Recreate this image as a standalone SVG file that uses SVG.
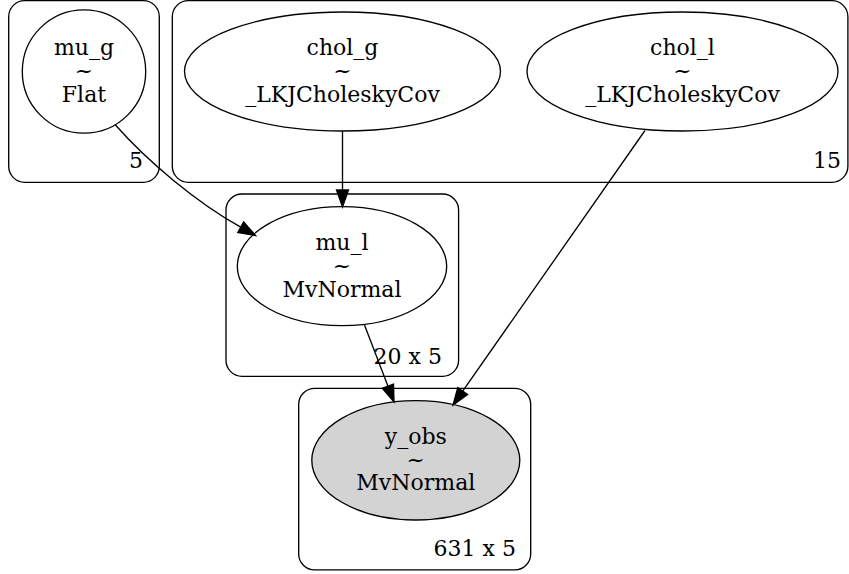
<svg xmlns="http://www.w3.org/2000/svg" width="849" height="574" viewBox="0 0 849 574">
<style>
text{font-family:"DejaVu Serif","Liberation Serif",serif;font-size:22px;fill:#000}
.n{text-anchor:middle}
.c{text-anchor:end}
.cl{fill:none;stroke:#000;stroke-width:1.33}
.nd{fill:none;stroke:#000;stroke-width:1.33}
.e{fill:none;stroke:#000;stroke-width:1.33}
.a{fill:#000;stroke:#000;stroke-width:1.33}
</style>
<rect width="849" height="574" fill="#fff"/>
<g id="cluster_5">
<rect class="cl" x="8.7" y="0.7" width="150.6" height="181.6" rx="16"/>
<text class="c" x="143" y="168">5</text>
</g>
<g id="cluster_15">
<rect class="cl" x="172.3" y="0.7" width="675.6" height="181.6" rx="16"/>
<text class="c" x="841" y="168">15</text>
</g>
<g id="cluster_20x5">
<rect class="cl" x="226" y="194" width="232.6" height="182.3" rx="16"/>
<text class="c" x="442" y="364">20 x 5</text>
</g>
<g id="cluster_631x5">
<rect class="cl" x="298.7" y="388.3" width="232" height="181.6" rx="16"/>
<text class="c" x="516" y="556">631 x 5</text>
</g>
<g id="mu_g">
<circle class="nd" cx="84" cy="71.5" r="61.7"/>
<text class="n" x="84" y="55">mu_g</text>
<text class="n" x="84" y="78">~</text>
<text class="n" x="84" y="101.5">Flat</text>
</g>
<g id="chol_g">
<ellipse class="nd" cx="342.5" cy="71.5" rx="158" ry="59.5"/>
<text class="n" x="342.5" y="55">chol_g</text>
<text class="n" x="342.5" y="78">~</text>
<text class="n" x="342.5" y="101.5">_LKJCholeskyCov</text>
</g>
<g id="chol_l">
<ellipse class="nd" cx="682.5" cy="71.5" rx="155.5" ry="59.5"/>
<text class="n" x="682.5" y="55">chol_l</text>
<text class="n" x="682.5" y="78">~</text>
<text class="n" x="682.5" y="101.5">_LKJCholeskyCov</text>
</g>
<g id="mu_l">
<ellipse class="nd" cx="342" cy="266.2" rx="104.7" ry="59.5"/>
<text class="n" x="342" y="249.5">mu_l</text>
<text class="n" x="342" y="272.5">~</text>
<text class="n" x="342" y="296.5">MvNormal</text>
</g>
<g id="y_obs">
<ellipse cx="415.8" cy="460.3" rx="104" ry="59.7" fill="#d3d3d3" stroke="#000" stroke-width="1.33"/>
<text class="n" x="415.8" y="443.5">y_obs</text>
<text class="n" x="415.8" y="466.5">~</text>
<text class="n" x="415.8" y="490">MvNormal</text>
</g>
<g id="edges">
<path class="e" d="M342.5,131 L342.5,190"/>
<polygon class="a" points="336.5,190 348.5,190 342.5,207"/>
<path class="e" d="M115,124.5 C148,162 197,202.7 240.7,227.2"/>
<polygon class="a" points="243.6,222 237.8,232.4 255.5,235.5"/>
<path class="e" d="M364.5,325 L387.9,386.1"/>
<polygon class="a" points="393.5,384 382.3,388.2 394,402"/>
<path class="e" d="M645,130.5 L462.7,391.1"/>
<polygon class="a" points="467.6,394.5 457.8,387.7 453,405"/>
</g>
</svg>
